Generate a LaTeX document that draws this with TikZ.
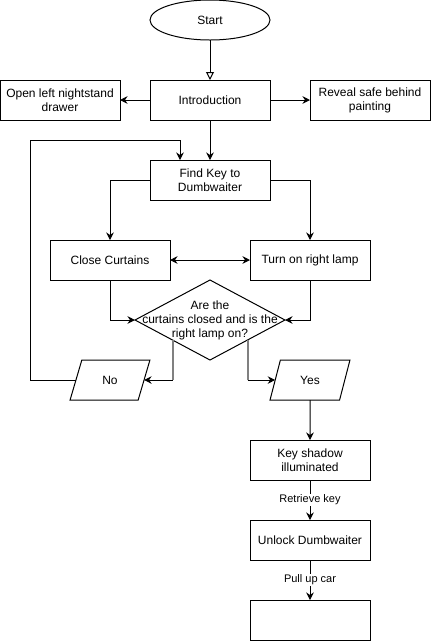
\documentclass[tikz,border=0pt]{standalone}
\usepackage{fontspec}
\setmainfont{Liberation Sans}
\usepackage{xcolor}
\colorlet{colorLine}{black}
\colorlet{colorBranch}{black!50}
\usetikzlibrary{arrows.meta, calc, positioning, shapes.geometric}
\tikzset{
  process/.style={draw, rectangle, minimum width=120pt, minimum height=40pt, align=center, inner sep=2pt},
  terminal/.style={draw, ellipse, minimum width=120pt, minimum height=40pt},
  decision/.style={draw, diamond, minimum width=150pt, minimum height=80pt, inner sep=0pt},
  answer/.style={draw, trapezium, trapezium left angle=73, trapezium right angle=107, trapezium stretches=true, minimum width=80pt, minimum height=40pt},
  edgelabel/.style={fill=white, font=\fontsize{11}{13}\selectfont, inner sep=1pt},
}

\begin{document}
\begin{tikzpicture}[x=1pt, y=-1pt, >={Stealth[length=7.5pt,width=7.5pt]}, line width=1pt, node distance=40pt, every node/.style={outer sep=0pt}, font=\fontsize{12}{14}\selectfont]
\useasboundingbox (0,0) rectangle (431,641);
\node[terminal] (q0) at (210,20) {Start};
\node[process, below=of q0] (q1) {Introduction};
\node[process, left=30pt of q1] (q2) {Open left nightstand\\drawer};
\node[process, right=of q1] (q3) {Reveal safe behind\\painting};
\node[process, below=of q1] (q4) {Find Key to\\Dumbwaiter};
\node[process] (q5) at (110,260) {Close Curtains};
\node[process] (q6) at (310,260) {Turn on right lamp};
\node[decision, label={[align=center]center:Are the\\curtains closed and is the\\right lamp on?}] (q7) at (210,320) {};
\node[answer] (q8) at (110,380) {No};
\node[answer] (q9) at (310,380) {Yes};
\node[process, below=of q9] (q10) {Key shadow\\illuminated};
\node[process, below=of q10] (q11) {Unlock Dumbwaiter};
\node[process, below=of q11] (q12) {};
\coordinate (c0) at ($(q7.west)!0.5!(q7.south)$);
\coordinate (c1) at ($(q7.east)!0.5!(q7.south)$);
\coordinate (c2) at (30,140);
\draw [-{Triangle[open,length=8pt,width=8pt]}] (q0) -- (q1);
\draw [->] (q1) -- (q2);
\draw [->] (q1) -- (q3);
\draw [->] (q1) -- (q4);
\draw [->] (q4.west) -| (q5);
\draw [->] (q4.east) -| (q6);
\draw [<->] (q5) -- (q6);
\draw [->] (q5.south) |- (q7.west);
\draw [->] (q6.south) |- (q7.east);
\draw [colorBranch, line width=2pt] (c0) -- (c0 |- q8.east);
\draw [->] (c0 |- q8.east) -- (q8.east);
\draw [colorBranch, line width=2pt] (c1) -- (c1 |- q9.west);
\draw [->] (c1 |- q9.west) -- (q9.west);
\draw [->] (q8.west) -| (c2) -| ([xshift=-30pt]q4.north);
\draw [->] (q9) -- (q10);
\draw [->] (q10) -- node[edgelabel]{Retrieve key} (q11);
\draw [->] (q11) -- node[edgelabel]{Pull up car} (q12);
\end{tikzpicture}
\end{document}
